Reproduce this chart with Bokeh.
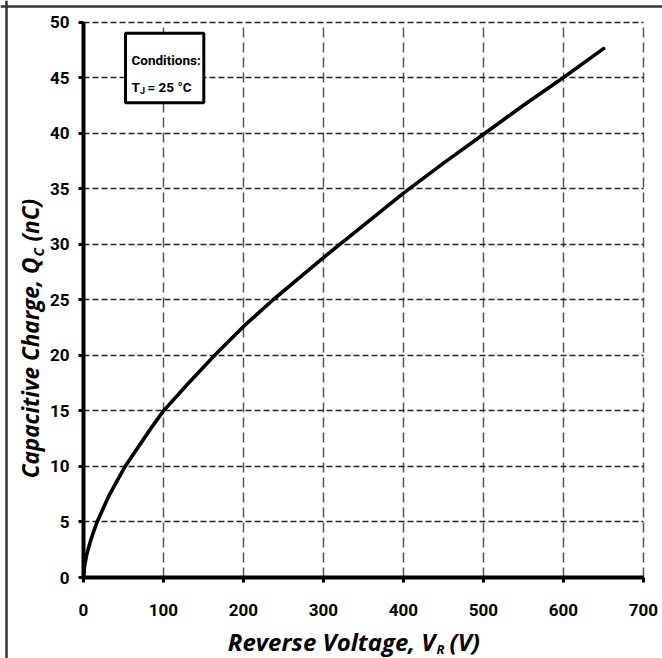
from bokeh.plotting import figure
from bokeh.models import Label, BoxAnnotation, FixedTicker, Range1d, Span
from bokeh.embed import file_html
from bokeh.resources import INLINE
import math

# ---- data ----
voltage = [0, 1, 2, 4, 8, 12, 17, 32, 52, 84, 100, 130, 164, 200, 237, 270,
           300, 400, 450, 500, 550, 600, 650]
charge = [0, 0.85, 1.3, 2.05, 3.1, 4.0, 5.0, 7.4, 10.0, 13.4, 15.0, 17.4, 20.0,
          22.6, 25.0, 27.0, 28.8, 34.6, 37.3, 39.9, 42.5, 45.0, 47.6]
x_ticks = [0, 100, 200, 300, 400, 500, 600, 700]
y_ticks = [0, 5, 10, 15, 20, 25, 30, 35, 40, 45, 50]
x_label_parts = ["Reverse Voltage, V", "R", "(V)"]
y_label_parts = ["Capacitive Charge, Q", "C", "(nC)"]
box_lines = ["Conditions:", "T", "J", "= 25 °C"]

W, H = 662, 658
# pixel geometry of the plotting box in the reference
X0_PX, X1_PX = 83.0, 643.0     # x = 0 .. 700
Y0_PX, Y1_PX = 577.0, 21.5     # y = 0 .. 50
sx = (X1_PX - X0_PX) / 700.0
sy = (Y0_PX - Y1_PX) / 50.0


def px2x(px):
    return (px - X0_PX) / sx


def px2y(py):
    return (Y0_PX - py) / sy


TICK_FONT = "Roboto"
LABEL_FONT = "Open Sans"

p = figure(width=W, height=H, output_backend="svg", toolbar_location=None,
           x_range=Range1d(px2x(0), px2x(W)), y_range=Range1d(px2y(H), px2y(0)),
           min_border=0)
p.outline_line_color = None
p.background_fill_color = "white"
p.border_fill_color = "white"

p.line(voltage, charge, line_width=3.6, line_color="black", line_cap="round")

p.xaxis.ticker = FixedTicker(ticks=x_ticks)
p.yaxis.ticker = FixedTicker(ticks=y_ticks)
p.xaxis.fixed_location = 0
p.yaxis.fixed_location = 0
p.xaxis.bounds = (0, 700)
p.yaxis.bounds = (0, 50)
for ax in (p.xaxis[0], p.yaxis[0]):
    ax.axis_line_width = 4
    ax.axis_line_color = "black"
    ax.major_tick_out = 5
    ax.major_tick_in = 0
    ax.major_tick_line_width = 3
    ax.major_tick_line_color = "black"
    ax.minor_tick_out = 0
    ax.minor_tick_in = 0
    ax.major_label_text_font = TICK_FONT
    ax.major_label_text_font_style = "bold"
    ax.major_label_text_font_size = "17px"
    ax.major_label_text_color = "black"
p.xaxis.major_label_standoff = 21
p.yaxis.major_label_standoff = 9

p.xgrid.ticker = FixedTicker(ticks=x_ticks)
p.ygrid.ticker = FixedTicker(ticks=y_ticks)
p.xgrid.cross_bounds = (0, 50)
p.ygrid.cross_bounds = (0, 700)
p.xgrid.grid_line_color = "#555555"
p.xgrid.grid_line_dash = "10 5"
p.xgrid.grid_line_width = 1.5
p.ygrid.grid_line_color = "#222222"
p.ygrid.grid_line_dash = "6 3"
p.ygrid.grid_line_width = 1.5

# outer frame of the picture (top and left edges)
p.add_layout(Span(location=px2y(6), dimension="width", line_color="#333333",
                  line_width=2.5))
p.add_layout(Span(location=px2x(6), dimension="height", line_color="#333333",
                  line_width=2.5))

# conditions box
p.add_layout(BoxAnnotation(left=px2x(125), right=px2x(203.3),
                           bottom=px2y(102.3), top=px2y(32.7),
                           fill_color="white", fill_alpha=1.0,
                           line_color="black", line_alpha=1.0, line_width=3))


def lab(px, py, text, size, font=TICK_FONT, style="bold", align="left", angle=0):
    p.add_layout(Label(x=px2x(px), y=px2y(py), text=text, text_font=font,
                       text_font_style=style, text_font_size=size,
                       text_align=align, text_baseline="alphabetic",
                       text_color="black", angle=angle))


lab(131, 59, box_lines[0], "13.5px")
lab(131, 86.5, box_lines[1], "13.5px")
lab(139.5, 90, box_lines[2], "9px")
lab(147, 86.5, box_lines[3], "13.5px")

# x axis label with subscript
lab(435, 641, x_label_parts[0], "24px", LABEL_FONT, "bold italic", "right")
lab(436, 648, x_label_parts[1], "13px", LABEL_FONT, "bold italic", "left")
lab(449, 641, x_label_parts[2], "24px", LABEL_FONT, "bold italic", "left")

# y axis label (rotated) with subscript
lab(30, 257, y_label_parts[0], "22.5px", LABEL_FONT, "bold italic", "right", math.pi / 2)
lab(38, 256, y_label_parts[1], "14px", LABEL_FONT, "bold italic", "left", math.pi / 2)
lab(30, 241, y_label_parts[2], "22.5px", LABEL_FONT, "bold italic", "left", math.pi / 2)

open("out.html", "w").write(file_html(p, INLINE))
